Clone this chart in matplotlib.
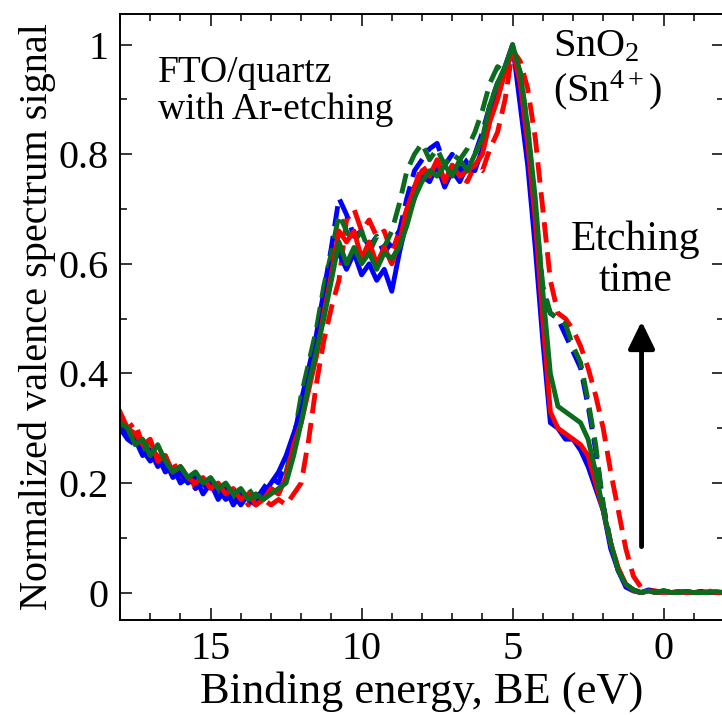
import numpy as np
import matplotlib
matplotlib.use("Agg")
import matplotlib.pyplot as plt
from matplotlib.ticker import MultipleLocator, FormatStrFormatter

plt.rcParams["font.family"] = ["Liberation Serif", "DejaVu Serif"]
plt.rcParams["mathtext.fontset"] = "custom"
plt.rcParams["mathtext.rm"] = "Liberation Serif"
plt.rcParams["mathtext.it"] = "Liberation Serif:italic"

# --- data (binding energy grid, eV) ---
be = np.round(np.arange(18.0, -2.001, -0.25), 2)

blue_solid = [
    0.31, 0.29, 0.28, 0.25, 0.26, 0.23, 0.24, 0.21, 0.22, 0.20,
    0.21, 0.18, 0.20, 0.17, 0.19, 0.16, 0.18, 0.17, 0.16, 0.18,
    0.20, 0.22, 0.25, 0.29, 0.33, 0.39, 0.45, 0.52, 0.60, 0.62,
    0.59, 0.62, 0.58, 0.60, 0.57, 0.59, 0.55, 0.62, 0.68, 0.72,
    0.76, 0.75, 0.78, 0.74, 0.77, 0.75, 0.78, 0.77, 0.81, 0.87,
    0.92, 0.96, 1.00, 0.89, 0.78, 0.63, 0.46, 0.31, 0.30, 0.28,
    0.28, 0.26, 0.23, 0.19, 0.15, 0.08, 0.04, 0.01, 0.003, 0.0,
    0.005, 0.0, 0.003, 0.0, 0.002, 0.0, 0.0, 0.002, 0.0, 0.0, 0.0,
]
blue_dash = [
    0.30, 0.28, 0.27, 0.26, 0.24, 0.25, 0.22, 0.23, 0.20, 0.21,
    0.19, 0.20, 0.18, 0.19, 0.17, 0.18, 0.16, 0.18, 0.17, 0.19,
    0.21, 0.20, 0.24, 0.28, 0.35, 0.41, 0.47, 0.55, 0.63, 0.72,
    0.69, 0.65, 0.66, 0.63, 0.65, 0.62, 0.64, 0.66, 0.72, 0.77,
    0.79, 0.81, 0.82, 0.78, 0.80, 0.77, 0.79, 0.80, 0.84, 0.89,
    0.93, 0.95, 0.99, 0.93, 0.82, 0.68, 0.55, 0.51, 0.50, 0.47,
    0.44, 0.41, 0.34, 0.26, 0.16, 0.09, 0.04, 0.015, 0.005, 0.0,
    0.003, 0.0, 0.002, 0.0, 0.0, 0.002, 0.0, 0.0, 0.002, 0.0, 0.0,
]
red_solid = [
    0.33, 0.30, 0.29, 0.27, 0.28, 0.24, 0.25, 0.22, 0.23, 0.21,
    0.20, 0.21, 0.19, 0.20, 0.18, 0.19, 0.17, 0.18, 0.16, 0.17,
    0.19, 0.18, 0.21, 0.27, 0.31, 0.37, 0.43, 0.51, 0.58, 0.66,
    0.64, 0.66, 0.61, 0.64, 0.60, 0.63, 0.60, 0.64, 0.70, 0.74,
    0.77, 0.76, 0.79, 0.75, 0.78, 0.76, 0.77, 0.78, 0.80, 0.86,
    0.90, 0.95, 0.99, 0.93, 0.82, 0.68, 0.50, 0.33, 0.30, 0.29,
    0.28, 0.27, 0.25, 0.20, 0.15, 0.09, 0.045, 0.015, 0.004, 0.0,
    0.003, 0.0, 0.002, 0.0, 0.002, 0.0, 0.0, 0.0, 0.002, 0.0, 0.0,
]
red_dash = [
    0.32, 0.30, 0.31, 0.27, 0.26, 0.25, 0.23, 0.24, 0.21, 0.22,
    0.19, 0.21, 0.20, 0.18, 0.19, 0.17, 0.18, 0.16, 0.18, 0.17,
    0.16, 0.17, 0.16, 0.18, 0.20, 0.28, 0.38, 0.46, 0.52, 0.57,
    0.68, 0.70, 0.66, 0.68, 0.65, 0.66, 0.62, 0.66, 0.70, 0.74,
    0.78, 0.76, 0.79, 0.75, 0.78, 0.76, 0.75, 0.78, 0.77, 0.81,
    0.84, 0.90, 0.99, 0.97, 0.92, 0.83, 0.70, 0.57, 0.51, 0.50,
    0.48, 0.45, 0.41, 0.36, 0.30, 0.22, 0.15, 0.08, 0.03, 0.01,
    0.005, 0.003, 0.0, 0.003, 0.0, 0.002, 0.0, 0.0, 0.003, 0.0, 0.0,
]
green_solid = [
    0.31, 0.30, 0.27, 0.28, 0.25, 0.27, 0.24, 0.22, 0.23, 0.21,
    0.22, 0.20, 0.21, 0.19, 0.20, 0.18, 0.19, 0.17, 0.18, 0.17,
    0.18, 0.19, 0.20, 0.25, 0.31, 0.38, 0.44, 0.50, 0.57, 0.64,
    0.60, 0.63, 0.60, 0.62, 0.59, 0.62, 0.61, 0.63, 0.67, 0.72,
    0.75, 0.77, 0.76, 0.78, 0.76, 0.79, 0.77, 0.80, 0.83, 0.89,
    0.93, 0.96, 1.00, 0.95, 0.85, 0.72, 0.55, 0.40, 0.34, 0.33,
    0.32, 0.31, 0.28, 0.22, 0.15, 0.09, 0.04, 0.015, 0.005, 0.0,
    0.003, 0.0, 0.004, 0.0, 0.0, 0.002, 0.0, 0.0, 0.0, 0.002, 0.0,
]
green_dash = [
    0.32, 0.29, 0.28, 0.26, 0.27, 0.24, 0.25, 0.22, 0.23, 0.21,
    0.22, 0.19, 0.20, 0.18, 0.19, 0.17, 0.18, 0.19, 0.17, 0.18,
    0.19, 0.18, 0.22, 0.28, 0.36, 0.42, 0.48, 0.56, 0.62, 0.69,
    0.66, 0.64, 0.66, 0.62, 0.65, 0.63, 0.66, 0.71, 0.77, 0.80,
    0.82, 0.79, 0.81, 0.78, 0.80, 0.79, 0.81, 0.84, 0.88, 0.93,
    0.96, 0.95, 0.99, 0.95, 0.85, 0.70, 0.56, 0.51, 0.50, 0.49,
    0.45, 0.42, 0.35, 0.27, 0.16, 0.09, 0.04, 0.015, 0.005, 0.0,
    0.003, 0.0, 0.002, 0.0, 0.003, 0.0, 0.0, 0.002, 0.0, 0.0, 0.0,
]

BLUE = "#0000ff"
RED = "#ff0000"
GREEN = "#0b6b1f"

fig = plt.figure(figsize=(7.22, 7.15), dpi=100)
ax = fig.add_axes([120 / 722, 95 / 715, 604 / 722, 606 / 715])

lw = 3.5
dash = (4.2, 2.0)
ax.plot(be, red_dash, color=RED, lw=lw, dashes=dash)
ax.plot(be, blue_dash, color=BLUE, lw=lw, dashes=dash)
ax.plot(be, green_dash, color=GREEN, lw=lw, dashes=dash)
ax.plot(be, blue_solid, color=BLUE, lw=lw)
ax.plot(be, red_solid, color=RED, lw=lw)
ax.plot(be, green_solid, color=GREEN, lw=lw)

ax.set_xlim(18, -2)
ax.set_ylim(-0.05, 1.056)

ax.xaxis.set_major_locator(MultipleLocator(5))
ax.xaxis.set_minor_locator(MultipleLocator(1))
ax.yaxis.set_major_locator(MultipleLocator(0.2))
ax.yaxis.set_minor_locator(MultipleLocator(0.1))
ax.yaxis.set_major_formatter(FormatStrFormatter("%g"))

ax.tick_params(which="both", direction="in", top=True, right=True, width=1.1)
ax.tick_params(which="major", length=8.5, labelsize=29, pad=8)
ax.tick_params(which="minor", length=5)
for s in ax.spines.values():
    s.set_linewidth(1.4)

ax.set_xlabel("Binding energy, BE (eV)", fontsize=32, labelpad=2)
ax.set_ylabel("Normalized valence spectrum signal", fontsize=29, labelpad=2)

ax.text(16.75, 0.98, "FTO/quartz\nwith Ar-etching", fontsize=27,
        ha="left", va="top", linespacing=1.1)
ax.text(3.65, 1.03, "SnO$_2$\n(Sn$^{4+}$)", fontsize=29,
        ha="left", va="top", linespacing=1.1)
ax.text(0.92, 0.68, "Etching\ntime", fontsize=30,
        ha="center", va="top", linespacing=1.1)
ax.annotate("", xy=(0.73, 0.495), xytext=(0.73, 0.084),
            arrowprops=dict(arrowstyle="-|>,head_length=0.82,head_width=0.4",
                            lw=3.5, color="k", shrinkA=0, shrinkB=0,
                            mutation_scale=20))

fig.savefig("out.png", dpi=100)
